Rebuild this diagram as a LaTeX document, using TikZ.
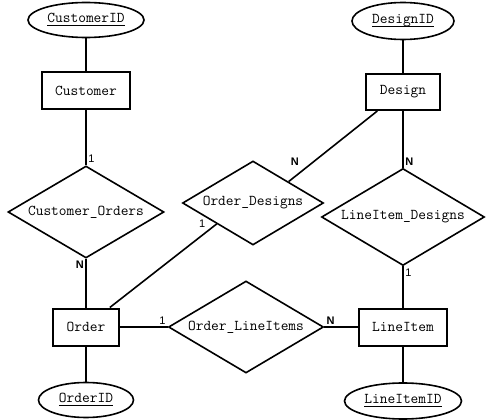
\documentclass[tikz,border=0pt]{standalone}
\usepackage{fontspec}
\newfontfamily\cardfont{Liberation Sans}
\usetikzlibrary{shapes.geometric,positioning}
\newcommand\keyattr[1]{\setbox0=\hbox{#1}\rlap{\rule[-3.5pt]{\wd0}{1.6pt}}\box0}

\begin{document}
\begin{tikzpicture}[x=1pt, y=-1pt, line width=1.6pt,
  every node/.style={font=\ttfamily\fontsize{15}{17}\selectfont},
  entity/.style={draw, rectangle, line width=2pt, inner xsep=13.5pt, minimum height=37pt},
  attr/.style={draw, ellipse, inner sep=0pt, minimum height=35pt},
  rel/.style={draw, diamond, aspect=1.7, inner sep=0pt},
  card/.style={font=\cardfont\fontsize{11}{13}\selectfont, inner sep=1.5pt}]
  \useasboundingbox (0,0) rectangle (491,420);

  \node[entity] (customer) at (86,91) {Customer};
  \node[attr, minimum width=116pt, node distance=71pt, above of=customer] (customerid) {\keyattr{CustomerID}};
  \node[rel, minimum width=156pt, minimum height=92pt, node distance=121pt, below of=customer] (custorders) {Customer\_Orders};
  \node[entity, node distance=115pt, below of=custorders] (order) {Order};
  \node[attr, minimum width=95pt, node distance=73pt, below of=order] (orderid) {\keyattr{OrderID}};
  \node[rel, minimum width=155pt, minimum height=92pt, node distance=160pt, right of=order] (orderlines) {Order\_LineItems};
  \node[entity, node distance=157pt, right of=orderlines] (lineitem) {LineItem};
  \node[attr, minimum width=117pt, minimum height=36pt, node distance=74pt, below of=lineitem] (lineitemid) {\keyattr{LineItemID}};
  \node[rel, minimum width=163pt, minimum height=97pt, node distance=110pt, above of=lineitem] (linedesigns) {LineItem\_Designs};
  \node[entity, minimum height=36pt, node distance=125pt, above of=linedesigns] (design) {Design};
  \node[attr, minimum width=102pt, minimum height=37pt, node distance=71pt, above of=design] (designid) {\keyattr{DesignID}};
  \node[rel, minimum width=141pt, minimum height=84pt] (orderdesigns) at (253,203) {Order\_Designs};

  \draw (customerid) -- (customer);
  \draw (customer) -- (custorders.north) node[card, above right] {1};
  \draw (custorders.south) node[card, below left] {\textbf{N}} -- (order);
  \draw (order) -- (orderid);
  \draw (order) -- (orderlines.west) node[card, above left] {1};
  \draw (orderlines.east) node[card, above right] {\textbf{N}} -- (lineitem);
  \draw (lineitem) -- (lineitemid);
  \draw (linedesigns.south) node[card, below right] {1} -- (lineitem);
  \draw (design) -- (linedesigns.north) node[card, above right] {\textbf{N}};
  \draw (designid) -- (design);
  \draw ([xshift=12pt]design.south west) -- (orderdesigns.31) node[card, above right=14pt and 0pt] {\textbf{N}};
  \draw ([xshift=-10pt]order.north east) -- (orderdesigns.210) node[card, left=9pt] {1};
\end{tikzpicture}
\end{document}
